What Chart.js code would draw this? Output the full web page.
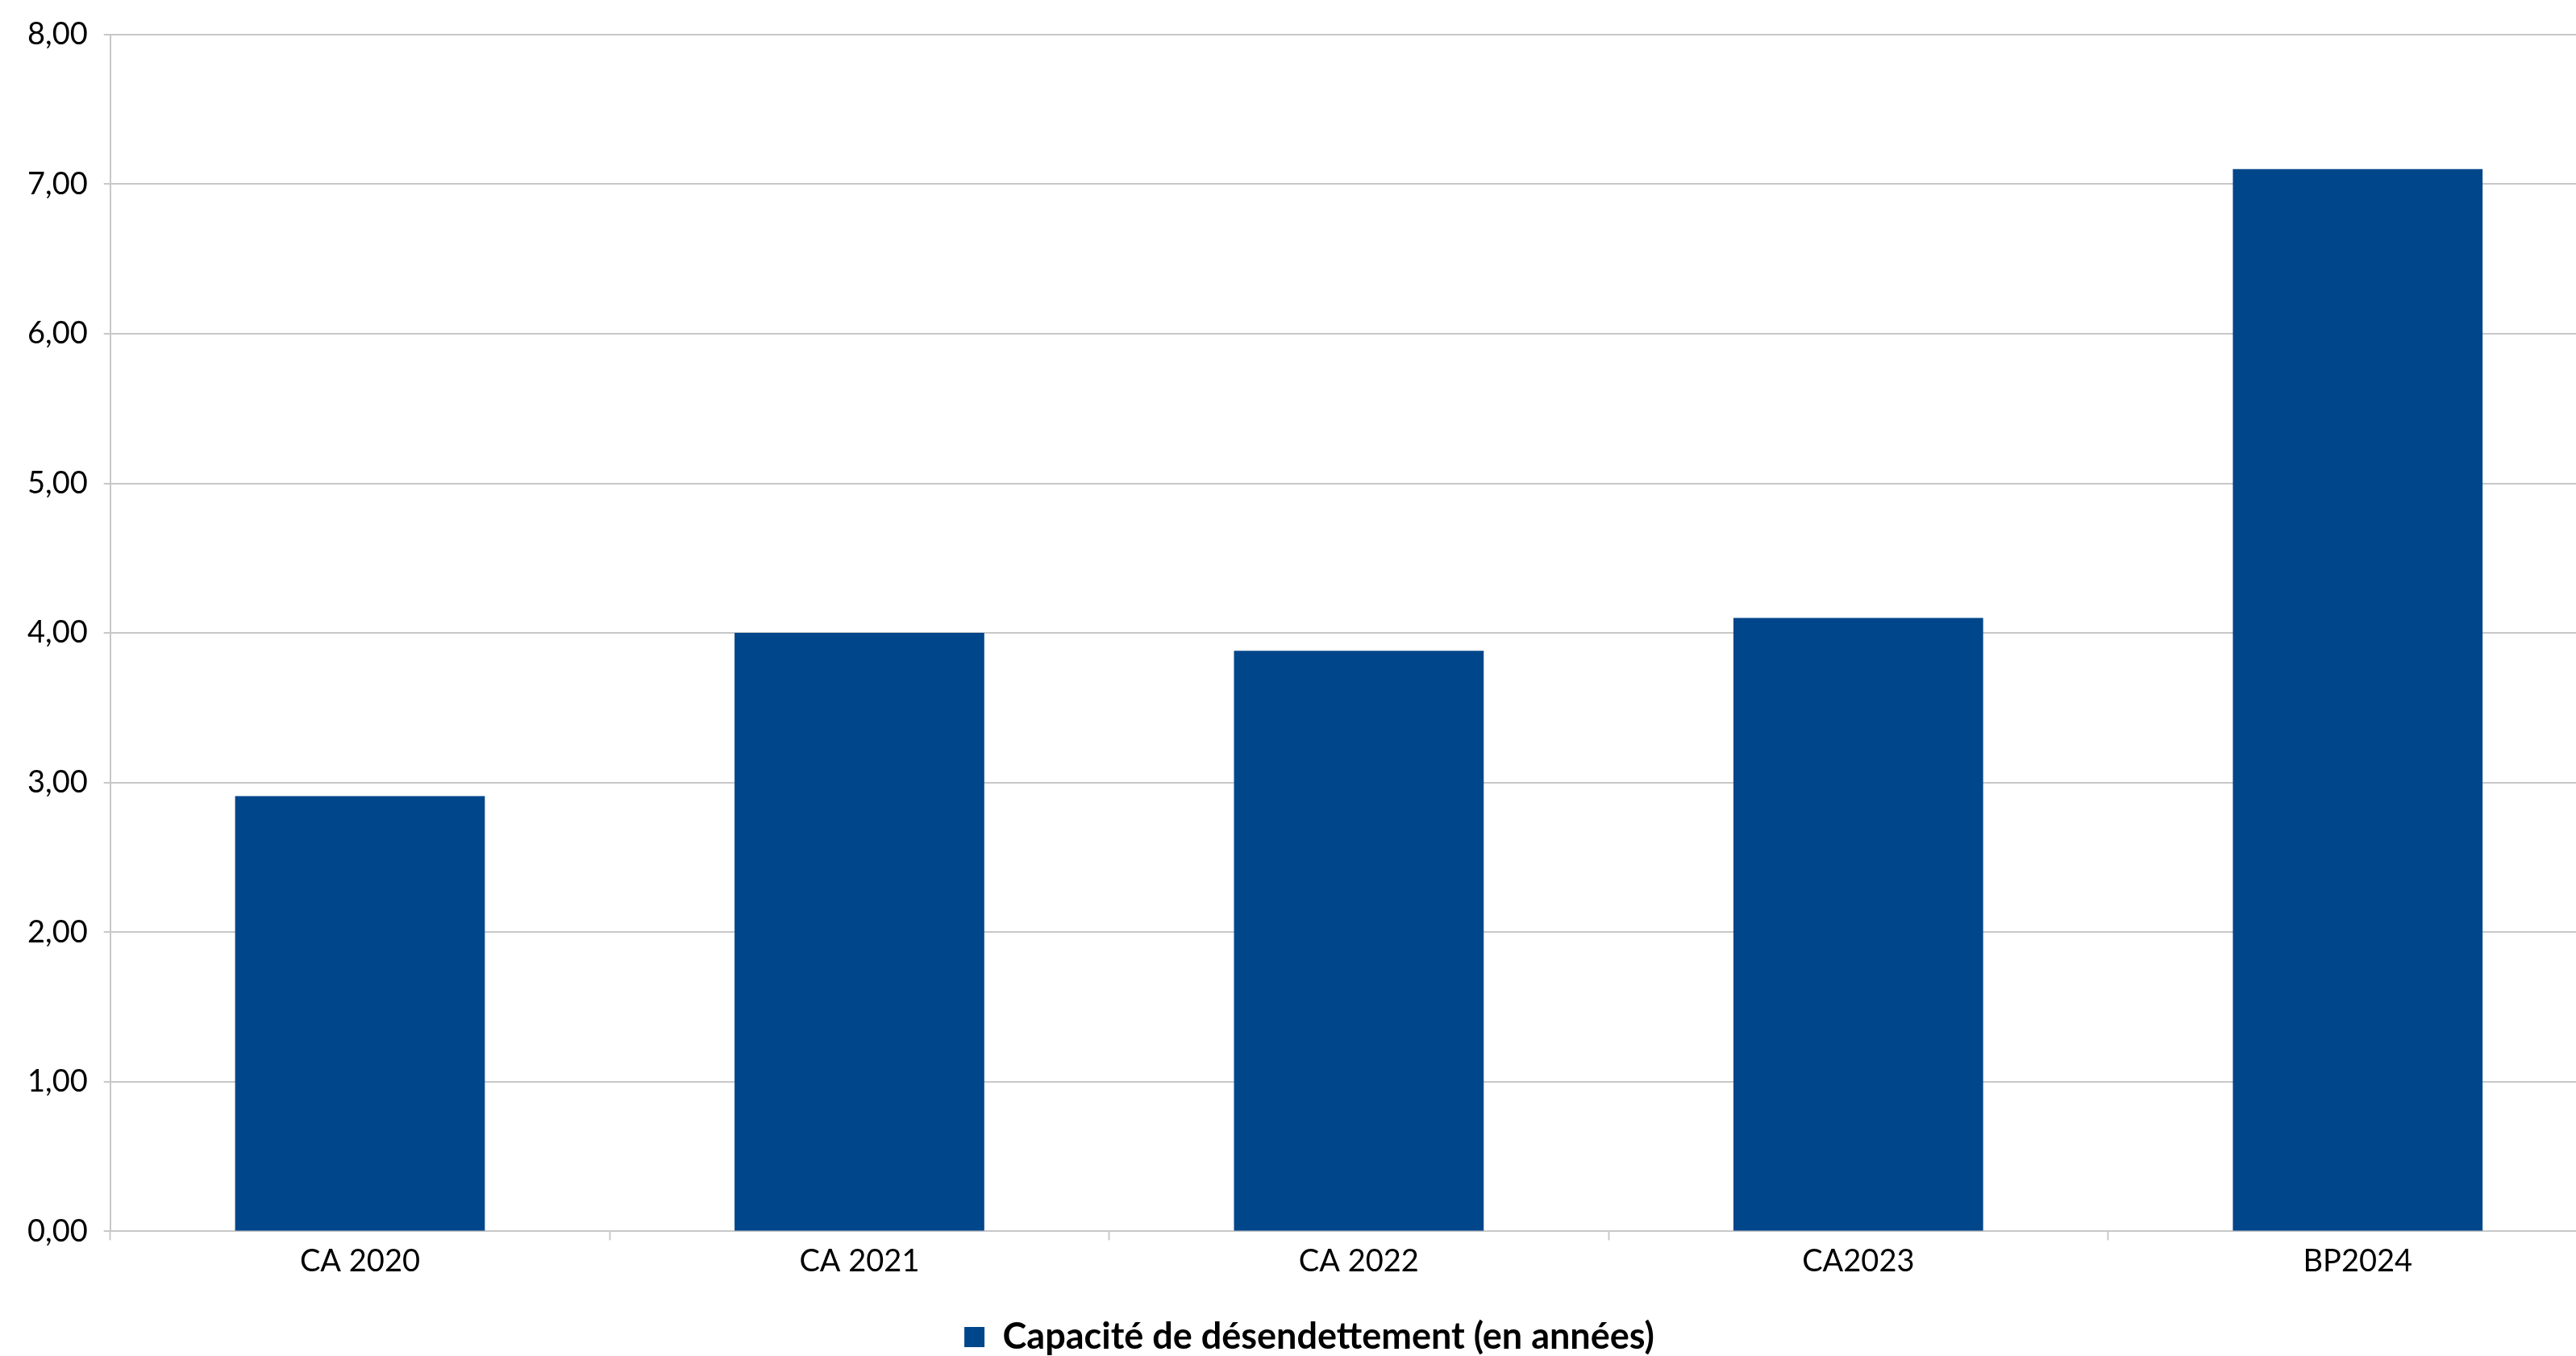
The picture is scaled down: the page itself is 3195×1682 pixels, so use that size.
<!DOCTYPE html>
<html>
<head>
<meta charset="utf-8">
<script src="https://cdn.jsdelivr.net/npm/chart.js@4"></script>
<style>
  html, body { margin: 0; padding: 0; background: #fff; overflow: hidden; }
  #wrap { width: 3266px; height: 1691px; position: relative; }
</style>
</head>
<body>
<div id="wrap"><canvas id="chart"></canvas></div>
<script>
// Capacité de désendettement, en années
const categories = ["CA 2020", "CA 2021", "CA 2022", "CA2023", "BP2024"];
const values = [2.91, 4.0, 3.88, 4.1, 7.1];
const seriesLabel = "Capacité de désendettement (en années)";
const yMin = 0;
const yMax = 8;
const yStep = 1;

const grey = "#c8c8c8";
const blue = "#00468a";

new Chart(document.getElementById("chart"), {
  type: "bar",
  data: {
    labels: categories,
    datasets: [
      {
        label: seriesLabel,
        data: values,
        backgroundColor: blue,
        borderWidth: 0,
        barPercentage: 0.5,
        categoryPercentage: 1,
      },
    ],
  },
  options: {
    responsive: true,
    maintainAspectRatio: false,
    animation: false,
    layout: { padding: { top: -2, left: 14, right: 32, bottom: 0 } },
    plugins: {
      tooltip: { enabled: false },
      legend: {
        position: "bottom",
        labels: {
          font: { family: "Lato", size: 45, weight: "bold" },
          color: "#000",
          boxWidth: 25,
          boxHeight: 25,
          padding: 44,
        },
      },
    },
    scales: {
      x: {
        grid: {
          drawOnChartArea: false,
          drawTicks: true,
          tickLength: 11,
          tickWidth: 2,
          tickColor: grey,
          offset: true,
        },
        border: { display: true, color: grey, width: 2 },
        ticks: {
          font: { family: "Lato", size: 38 },
          color: "#000",
          padding: 4,
          maxRotation: 0,
        },
      },
      y: {
        min: yMin,
        max: yMax,
        grid: {
          color: grey,
          lineWidth: 2,
          tickLength: 8,
        },
        border: { display: true, color: grey, width: 2 },
        ticks: {
          stepSize: yStep,
          font: { family: "Lato", size: 38 },
          color: "#000",
          padding: 20,
          callback: (v) => v.toFixed(2).replace(".", ","),
        },
      },
    },
  },
});
</script>
</body>
</html>
